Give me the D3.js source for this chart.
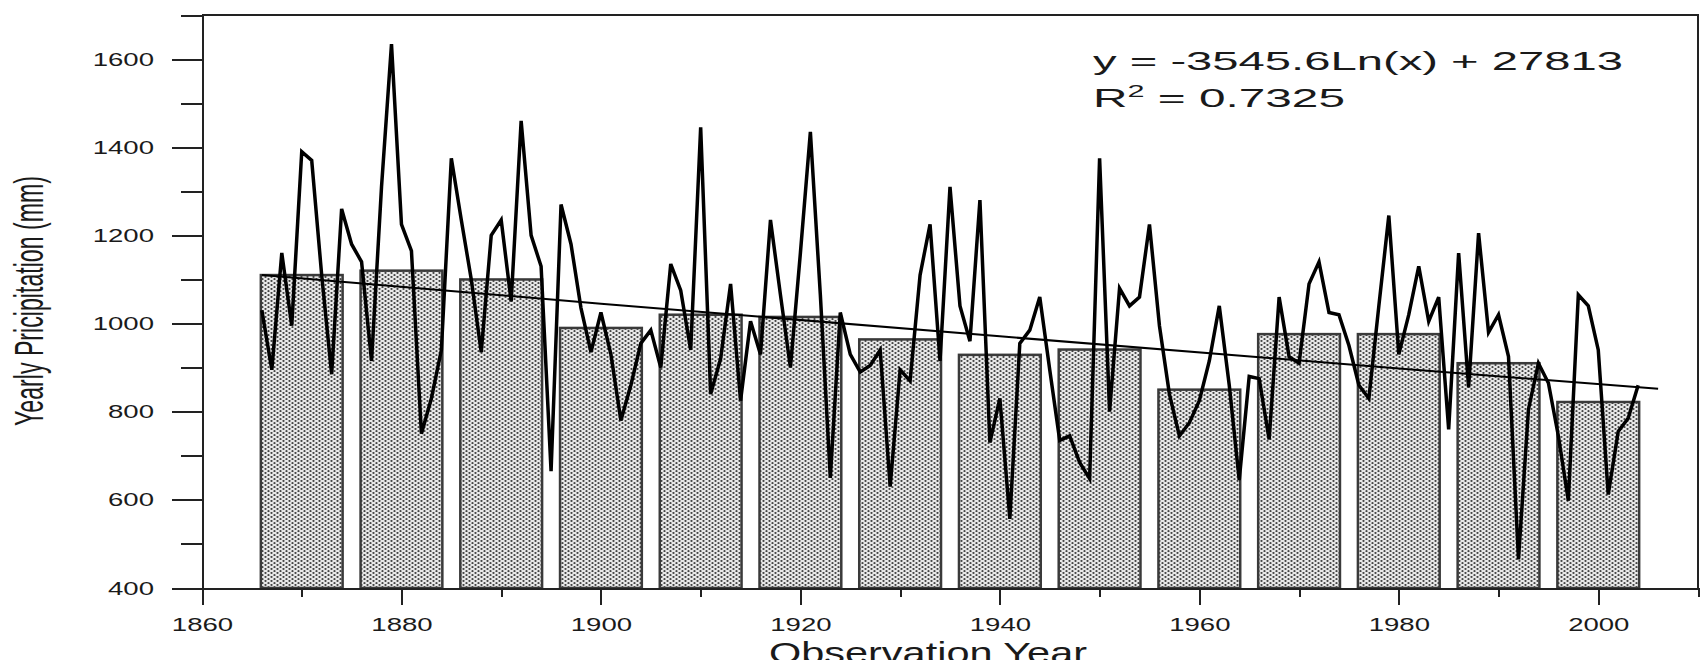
<!DOCTYPE html>
<meta charset="utf-8">
<style>
body { margin: 0; background: #fff; }
svg text { font-family: "Liberation Sans", Arial, sans-serif; fill: #1a1a1a; }
.axis path, .axis line { stroke: #222; stroke-width: 2; shape-rendering: crispEdges; }
.axis text { font-size: 19px; }
</style>
<body>
<script src="https://d3js.org/d3.v7.min.js"></script>
<script>

// yearly precipitation (mm), one value per year starting at firstYear
const firstYear = 1866;
const precip = [
  1030, 895, 1160, 995, 1390, 1370, 1110, 885, 1260, 1180,   // 1866-1875
  1140, 915, 1310, 1634, 1225, 1165, 750, 830, 940, 1375,    // 1876-1885
  1235, 1100, 935, 1200, 1235, 1050, 1460, 1200, 1130, 665,  // 1886-1895
  1270, 1180, 1035, 935, 1025, 930, 780, 860, 955, 985,      // 1896-1905
  900, 1135, 1075, 940, 1445, 840, 920, 1090, 825, 1005,     // 1906-1915
  930, 1235, 1065, 900, 1160, 1435, 1065, 650, 1025, 930,    // 1916-1925
  890, 905, 940, 630, 895, 870, 1110, 1225, 915, 1310,       // 1926-1935
  1040, 960, 1280, 730, 830, 557, 955, 985, 1060, 895,       // 1936-1945
  735, 745, 685, 648, 1375, 800, 1080, 1040, 1060, 1225,     // 1946-1955
  995, 840, 745, 775, 825, 915, 1040, 860, 645, 880,         // 1956-1965
  875, 737, 1060, 925, 910, 1090, 1140, 1025, 1020, 950,     // 1966-1975
  860, 830, 1040, 1245, 930, 1020, 1130, 1005, 1060, 760,    // 1976-1985
  1160, 855, 1205, 980, 1020, 925, 465, 805, 910, 865,       // 1986-1995
  745, 598, 1065, 1040, 940, 612, 755, 785, 860              // 1996-2004
];

// decade means drawn as bars
const decades = [1870, 1880, 1890, 1900, 1910, 1920, 1930, 1940, 1950, 1960, 1970, 1980, 1990, 2000];
const decadeMeans = [1110, 1120, 1100, 990, 1020, 1015, 964, 929, 941, 850, 976, 976, 910, 822];

// logarithmic trend line (y = -3545.6Ln(x) + 27813)
const trendYears = [1866, 1900, 1940, 1980, 2006];
const trendValues = [1110, 1045, 971, 898, 852];

const xMajor = [1860, 1880, 1900, 1920, 1940, 1960, 1980, 2000];
const xMinor = [1870, 1890, 1910, 1930, 1950, 1970, 1990, 2010];
const yMajor = [400, 600, 800, 1000, 1200, 1400, 1600];
const yMinor = [500, 700, 900, 1100, 1300, 1500, 1700];

const W = 1708, H = 660;
const svg = d3.select("body").append("svg").attr("width", W).attr("height", H);

const x = d3.scaleLinear().domain([1860, 2010]).range([202, 1698]);
const y = d3.scaleLinear().domain([400, 1700]).range([588, 15]);

// dotted fill for the bars
const pat = svg.append("defs").append("pattern")
  .attr("id", "dots").attr("patternUnits", "userSpaceOnUse")
  .attr("width", 6).attr("height", 4);
pat.append("rect").attr("width", 6).attr("height", 4).attr("fill", "#e8e8e8");
pat.append("circle").attr("cx", 1.5).attr("cy", 1).attr("r", 1.1).attr("fill", "#444");
pat.append("circle").attr("cx", 4.5).attr("cy", 3).attr("r", 1.1).attr("fill", "#444");

// bars
svg.append("g").selectAll("rect")
  .data(decades)
  .join("rect")
  .attr("x", d => x(d - 4.1))
  .attr("width", x(1868.2) - x(1860))
  .attr("y", (d, i) => y(decadeMeans[i]))
  .attr("height", (d, i) => y(400) - y(decadeMeans[i]))
  .attr("fill", "url(#dots)")
  .attr("stroke", "#3a3a3a")
  .attr("stroke-width", 2.5);

// yearly line
const series = precip.map((v, i) => [firstYear + i, v]);
svg.append("path")
  .datum(series)
  .attr("fill", "none")
  .attr("stroke", "#000")
  .attr("stroke-width", 3.5)
  .attr("d", d3.line().x(d => x(d[0])).y(d => y(d[1])));

// trend
svg.append("path")
  .datum(trendYears.map((t, i) => [t, trendValues[i]]))
  .attr("fill", "none")
  .attr("stroke", "#000")
  .attr("stroke-width", 2)
  .attr("d", d3.line().x(d => x(d[0])).y(d => y(d[1])));

// axes
svg.append("g").attr("class", "axis")
  .attr("transform", "translate(0," + y(400) + ")")
  .call(d3.axisBottom(x).tickValues(xMajor).tickFormat(d3.format("d"))
    .tickSizeInner(17).tickSizeOuter(0).tickPadding(13));
svg.append("g").attr("class", "axis")
  .attr("transform", "translate(0," + y(400) + ")")
  .call(d3.axisBottom(x).tickValues(xMinor).tickFormat("").tickSizeInner(9).tickSizeOuter(0))
  .call(g => g.select(".domain").remove());

svg.append("g").attr("class", "axis")
  .attr("transform", "translate(" + x(1860) + ",0)")
  .call(d3.axisLeft(y).tickValues(yMajor).tickFormat(d3.format("d"))
    .tickSizeInner(30).tickSizeOuter(0).tickPadding(18));
svg.append("g").attr("class", "axis")
  .attr("transform", "translate(" + x(1860) + ",0)")
  .call(d3.axisLeft(y).tickValues(yMinor).tickFormat("").tickSizeInner(21).tickSizeOuter(0))
  .call(g => g.select(".domain").remove());

// top and right frame
svg.append("path").attr("class", "frame")
  .attr("d", "M" + x(1860) + "," + y(1700) + "H" + x(2010) + "V" + y(400))
  .attr("fill", "none").attr("stroke", "#222").attr("stroke-width", 2)
  .attr("shape-rendering", "crispEdges");

// the original labels are stretched sideways
svg.selectAll(".axis text").each(function () {
  const w = this.getComputedTextLength();
  d3.select(this).attr("textLength", w * 1.45).attr("lengthAdjust", "spacingAndGlyphs");
});

// axis titles
svg.append("text")
  .attr("transform", "translate(28,301) scale(1.8,1) rotate(-90)")
  .attr("text-anchor", "middle").attr("dy", "0.35em")
  .attr("font-size", 23)
  .attr("textLength", 250).attr("lengthAdjust", "spacingAndGlyphs")
  .text("Yearly Pricipitation (mm)");

svg.append("text")
  .attr("x", 769).attr("y", 663)
  .attr("font-size", 30)
  .attr("textLength", 318).attr("lengthAdjust", "spacingAndGlyphs")
  .text("Observation Year");

// regression equation
svg.append("text")
  .attr("x", 1093).attr("y", 70)
  .attr("font-size", 25)
  .attr("textLength", 530).attr("lengthAdjust", "spacingAndGlyphs")
  .text("y = -3545.6Ln(x) + 27813");

const r2 = svg.append("text")
  .attr("x", 1093).attr("y", 107)
  .attr("font-size", 25)
  .attr("textLength", 252).attr("lengthAdjust", "spacingAndGlyphs");
r2.append("tspan").text("R");
r2.append("tspan").attr("font-size", 16).attr("dy", -10).text("2");
r2.append("tspan").attr("dy", 10).text(" = 0.7325");

</script>
</body>
